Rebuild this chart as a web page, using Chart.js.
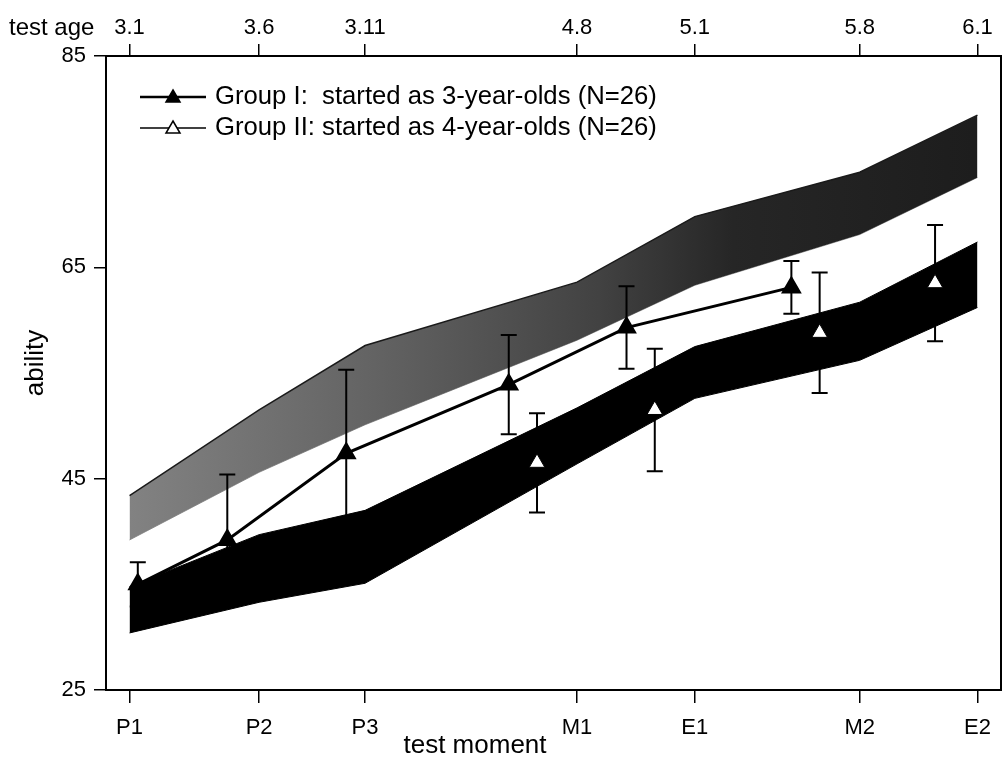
<!DOCTYPE html>
<html lang="en">

<head>
  <meta charset="UTF-8">
  <title>Ability by test moment</title>
  <script src="https://cdn.jsdelivr.net/npm/chart.js"></script>
  <style>
    body {
      margin: 0;
      background: #fff;
    }

    .chart-box {
      position: relative;
      width: 1005px;
      height: 757px;
    }
  </style>
</head>

<body>
  <div class="chart-box">
    <canvas id="abilityChart"></canvas>
  </div>

  <script>
    // axis labels
    const testMoments = ["P1", "P2", "P3", "M1", "E1", "M2", "E2"];
    const testAges = ["3.1", "3.6", "3.11", "4.8", "5.1", "5.8", "6.1"];
    // position of each test moment (age in months)
    const momentPos = [37, 42.5, 47, 56, 61, 68, 73];

    // reference bands
    const grayUpper = [43.4, 51.5, 57.6, 63.6, 69.8, 74.0, 79.4];
    const grayLower = [39.2, 45.6, 50.1, 58.1, 63.3, 68.1, 73.5];
    const blackUpper = [34.8, 39.7, 42.0, 51.7, 57.5, 61.7, 67.4];
    const blackLower = [30.4, 33.3, 35.1, 46.4, 52.6, 56.2, 61.2];

    // Group I: started as 3-year-olds
    const groupIAge = [37.35, 41.15, 46.2, 53.1, 58.1, 65.1];
    const groupIMean = [35.0, 39.2, 47.4, 53.9, 59.3, 63.1];
    const groupIErr = [2.1, 6.2, 7.9, 4.7, 3.9, 2.5];

    // Group II: started as 4-year-olds
    const groupIIAge = [54.3, 59.3, 66.3, 71.2];
    const groupIIMean = [46.5, 51.5, 58.8, 63.5];
    const groupIIErr = [4.7, 5.8, 5.7, 5.5];

    const FONT = "'Liberation Sans', Arial, sans-serif";

    const toPoints = (xs, ys) => xs.map((x, i) => ({ x: x, y: ys[i] }));

    function grayFill(context) {
      const area = context.chart.chartArea;
      if (!area) return "#555";
      const g = context.chart.ctx.createLinearGradient(area.left, 0, area.right, 0);
      g.addColorStop(0, "#858585");
      g.addColorStop(0.3, "#636363");
      g.addColorStop(0.55, "#424242");
      g.addColorStop(0.7, "#262626");
      g.addColorStop(1, "#1c1c1c");
      return g;
    }

    // error bars, drawn just before the group lines
    const errorBars = {
      id: "errorBars",
      beforeDatasetDraw(chart, args) {
        if (args.index !== 4) return;
        const ctx = chart.ctx;
        const xs = chart.scales.x;
        const ys = chart.scales.y;
        const a = chart.chartArea;
        const sets = [
          [groupIAge, groupIMean, groupIErr],
          [groupIIAge, groupIIMean, groupIIErr]
        ];
        ctx.save();
        ctx.beginPath();
        ctx.rect(a.left, a.top, a.right - a.left, a.bottom - a.top);
        ctx.clip();
        ctx.strokeStyle = "#000";
        ctx.lineWidth = 2;
        sets.forEach(([ages, means, errs]) => {
          ages.forEach((age, i) => {
            const px = xs.getPixelForValue(age);
            const top = ys.getPixelForValue(means[i] + errs[i]);
            const bot = ys.getPixelForValue(means[i] - errs[i]);
            ctx.beginPath();
            ctx.moveTo(px, top);
            ctx.lineTo(px, bot);
            ctx.moveTo(px - 8, top);
            ctx.lineTo(px + 8, top);
            ctx.moveTo(px - 8, bot);
            ctx.lineTo(px + 8, bot);
            ctx.stroke();
          });
        });
        ctx.restore();
      }
    };

    // frame, axis titles and legend
    const decorations = {
      id: "decorations",
      afterDraw(chart) {
        const ctx = chart.ctx;
        const a = chart.chartArea;
        ctx.save();
        ctx.strokeStyle = "#000";
        ctx.lineWidth = 2;
        ctx.strokeRect(a.left, a.top, a.right - a.left, a.bottom - a.top);

        ctx.fillStyle = "#000";
        ctx.font = "24px " + FONT;
        ctx.textAlign = "left";
        ctx.textBaseline = "middle";
        ctx.fillText("test age", 9, 28);

        ctx.font = "26px " + FONT;
        ctx.textAlign = "center";
        ctx.fillText("test moment", 475, 746);
        ctx.save();
        ctx.translate(36, 363);
        ctx.rotate(-Math.PI / 2);
        ctx.fillText("ability", 0, 0);
        ctx.restore();

        // legend
        const rows = [
          { y: 97, text: "Group I:  started as 3-year-olds (N=26)", fill: "#000", lw: 2.5 },
          { y: 128, text: "Group II: started as 4-year-olds (N=26)", fill: "#fff", lw: 1.5 }
        ];
        rows.forEach(r => {
          ctx.strokeStyle = "#000";
          ctx.lineWidth = r.lw;
          ctx.beginPath();
          ctx.moveTo(140, r.y);
          ctx.lineTo(206, r.y);
          ctx.stroke();
          ctx.beginPath();
          ctx.moveTo(173, r.y - 7);
          ctx.lineTo(180, r.y + 5);
          ctx.lineTo(166, r.y + 5);
          ctx.closePath();
          ctx.fillStyle = r.fill;
          ctx.fill();
          ctx.lineWidth = 1.5;
          ctx.stroke();
          ctx.fillStyle = "#000";
          ctx.font = "25.7px " + FONT;
          ctx.textAlign = "left";
          ctx.fillText(r.text, 215, r.y);
        });
        ctx.restore();
      }
    };

    const momentTicks = scale => {
      scale.ticks = momentPos.map(v => ({ value: v }));
    };

    const fitX = h => s => {
      s.height = h;
      s.paddingLeft = 0;
      s.paddingRight = 0;
    };

    new Chart(document.getElementById("abilityChart"), {
      type: "line",
      data: {
        datasets: [
          {
            data: toPoints(momentPos, grayUpper),
            borderColor: "#1a1a1a",
            borderWidth: 1.5,
            backgroundColor: grayFill,
            fill: "+1",
            pointRadius: 0,
            tension: 0,
            order: 5
          },
          {
            data: toPoints(momentPos, grayLower),
            borderColor: "#333",
            borderWidth: 0.5,
            pointRadius: 0,
            fill: false,
            tension: 0,
            order: 5
          },
          {
            data: toPoints(momentPos, blackUpper),
            borderColor: "#000",
            borderWidth: 1,
            backgroundColor: "#000",
            fill: "+1",
            pointRadius: 0,
            tension: 0,
            order: 4
          },
          {
            data: toPoints(momentPos, blackLower),
            borderColor: "#000",
            borderWidth: 1,
            pointRadius: 0,
            fill: false,
            tension: 0,
            order: 4
          },
          {
            label: "Group I: started as 3-year-olds (N=26)",
            data: toPoints(groupIAge, groupIMean),
            borderColor: "#000",
            borderWidth: 3,
            pointStyle: "triangle",
            pointRadius: 9,
            pointBackgroundColor: "#000",
            pointBorderColor: "#000",
            fill: false,
            tension: 0,
            order: 1
          },
          {
            label: "Group II: started as 4-year-olds (N=26)",
            data: toPoints(groupIIAge, groupIIMean),
            showLine: false,
            pointStyle: "triangle",
            pointRadius: 9,
            pointBackgroundColor: "#fff",
            pointBorderColor: "#000",
            pointBorderWidth: 1,
            order: 0
          }
        ]
      },
      options: {
        responsive: true,
        maintainAspectRatio: false,
        animation: false,
        layout: { padding: { right: 4 }, autoPadding: false },
        plugins: {
          legend: { display: false },
          tooltip: { enabled: false }
        },
        scales: {
          x: {
            type: "linear",
            position: "bottom",
            min: 36,
            max: 74,
            afterBuildTicks: momentTicks,
            afterFit: fitX(67),
            ticks: {
              color: "#000",
              padding: 12,
              maxRotation: 0,
              font: { family: FONT, size: 22 },
              callback: v => testMoments[momentPos.indexOf(v)]
            },
            grid: { drawOnChartArea: false, tickLength: 13, color: "#000", lineWidth: 1.5 },
            border: { color: "#000", width: 2 }
          },
          x2: {
            type: "linear",
            position: "top",
            min: 36,
            max: 74,
            afterBuildTicks: momentTicks,
            afterFit: fitX(56),
            ticks: {
              color: "#000",
              padding: 3,
              maxRotation: 0,
              font: { family: FONT, size: 22 },
              callback: v => testAges[momentPos.indexOf(v)]
            },
            grid: { drawOnChartArea: false, tickLength: 12, color: "#000", lineWidth: 1.5 },
            border: { color: "#000", width: 2 }
          },
          y: {
            min: 25,
            max: 85,
            afterFit: s => { s.width = 106; },
            ticks: {
              stepSize: 20,
              color: "#000",
              padding: 8,
              font: { family: FONT, size: 22 }
            },
            grid: { drawOnChartArea: false, tickLength: 12, color: "#000", lineWidth: 1.5 },
            border: { color: "#000", width: 2 }
          }
        }
      },
      plugins: [errorBars, decorations]
    });
  </script>
</body>

</html>
